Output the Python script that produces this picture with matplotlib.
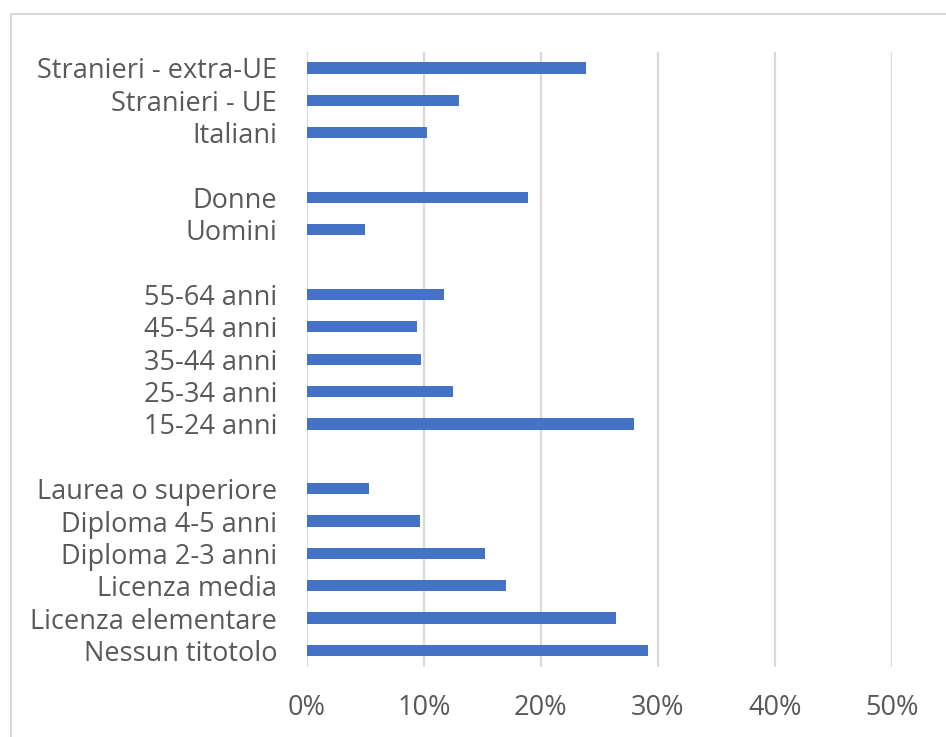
import matplotlib.pyplot as plt
from matplotlib.patches import Rectangle
from matplotlib.ticker import PercentFormatter

# Categories listed bottom to top; empty strings leave a gap between groups
categories = [
    "Nessun titotolo", "Licenza elementare", "Licenza media",
    "Diploma 2-3 anni", "Diploma 4-5 anni", "Laurea o superiore",
    "",
    "15-24 anni", "25-34 anni", "35-44 anni", "45-54 anni", "55-64 anni",
    "",
    "Uomini", "Donne",
    "",
    "Italiani", "Stranieri - UE", "Stranieri - extra-UE",
]
shares = [
    0.292, 0.264, 0.170, 0.152, 0.097, 0.053,
    None,
    0.280, 0.125, 0.0976, 0.094, 0.117,
    None,
    0.050, 0.189,
    None,
    0.1025, 0.130, 0.239,
]
x_ticks = [0.0, 0.1, 0.2, 0.3, 0.4, 0.5]

text_grey = "#595959"
grid_grey = "#d9d9d9"
bar_blue = "#4472c4"

plt.rcParams["font.family"] = ["Open Sans", "DejaVu Sans"]

fig = plt.figure(figsize=(9.46, 7.37), dpi=100)
ax = fig.add_axes([0.3245, 0.0954, 0.6180, 0.8345])

# chart border (only left and top edges fall inside the image)
fig.patches.append(Rectangle((11 / 946, -0.1), 2.0, 1 - 14 / 737 + 0.1,
                             transform=fig.transFigure, fill=False,
                             edgecolor=grid_grey, linewidth=1.5, zorder=0))

pos = list(range(len(categories)))
vals = [v if v is not None else 0 for v in shares]
ax.barh(pos, vals, height=0.35, color=bar_blue, zorder=3)

ax.set_xlim(0, 0.5)
ax.set_ylim(-0.5, len(categories) - 0.5)
ax.set_xticks(x_ticks)
ax.xaxis.set_major_formatter(PercentFormatter(1.0, decimals=0))
ax.set_yticks(pos)
ax.set_yticklabels(categories)

ax.grid(axis="x", color=grid_grey, linewidth=1.6, zorder=0)
for s in ax.spines.values():
    s.set_visible(False)
ax.tick_params(axis="both", length=0, colors=text_grey, labelsize=19.5)
ax.tick_params(axis="y", pad=21.5)
ax.tick_params(axis="x", pad=20)

fig.savefig("out.png", dpi=100)
